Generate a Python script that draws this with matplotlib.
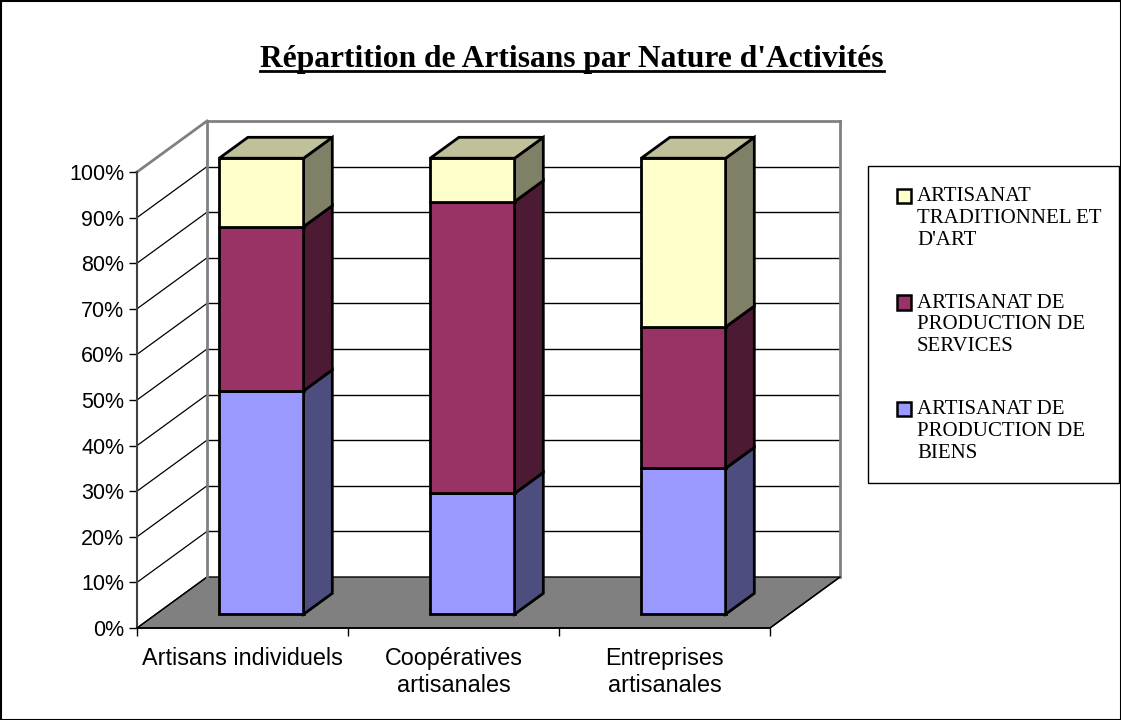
import matplotlib.pyplot as plt
from matplotlib.patches import Polygon, Rectangle

# Données (en %)
categories = ["Artisans individuels", "Coopératives\nartisanales", "Entreprises\nartisanales"]
series_names = ["ARTISANAT DE\nPRODUCTION DE\nBIENS",
                "ARTISANAT DE\nPRODUCTION DE\nSERVICES",
                "ARTISANAT\nTRADITIONNEL ET\nD'ART"]
biens = [49, 26.5, 32]
services = [36, 64, 31]
traditionnel = [15, 9.5, 37]
series = [biens, services, traditionnel]

front_colors = ["#9999FF", "#993366", "#FFFFCC"]
side_colors = ["#4D4D80", "#4D1A33", "#808066"]
top_colors = ["#BFBFF0", "#C07090", "#C0C09A"]

# Géométrie de la pseudo-3D (en unités de données)
DX, DY = 70 / 211, 51 / 4.56      # profondeur totale du plancher
F0, F1 = 0.27, 0.68               # profondeur avant / arrière des barres
BAR_W = 0.4
n = len(categories)

fig = plt.figure(figsize=(11.21, 7.2), dpi=100)
ax = fig.add_axes([0, 0, 1, 1])
ax.set_xlim(-137 / 211, (1121 - 137) / 211)
ax.set_ylim(-(720 - 628) / 4.56, 628 / 4.56)
ax.patch.set_visible(False)

# Plancher
ax.add_patch(Polygon([(0, 0), (n, 0), (n + DX, DY), (DX, DY)], closed=True,
                     facecolor="#808080", edgecolor="black", lw=1, zorder=1))

# Quadrillage : mur du fond et mur de gauche
for v in range(10, 101, 10):
    c = "#808080" if v == 100 else "black"
    ax.plot([DX, n + DX], [v + DY, v + DY], color=c, lw=2 if v == 100 else 1, zorder=1)
for v in range(0, 101, 10):
    c = "#808080" if v == 100 else "black"
    ax.plot([0, DX], [v, v + DY], color=c, lw=2 if v == 100 else 0.9, zorder=1)
ax.plot([DX, DX], [DY, 100 + DY], color="#808080", lw=2, zorder=1)
ax.plot([n + DX, n + DX], [DY, 100 + DY], color="#808080", lw=2, zorder=1)

# Barres empilées
for i in range(n):
    x0 = i + 0.5 - BAR_W / 2 + F0 * DX
    x1 = x0 + BAR_W
    ddx, ddy = (F1 - F0) * DX, (F1 - F0) * DY
    base = F0 * DY
    bottom = 0
    for s in range(len(series)):
        h = series[s][i]
        y0, y1 = base + bottom, base + bottom + h
        ax.bar(x0, h, width=BAR_W, bottom=y0, align="edge",
               color=front_colors[s], edgecolor="black", lw=2, zorder=3)
        ax.add_patch(Polygon([(x1, y0), (x1 + ddx, y0 + ddy), (x1 + ddx, y1 + ddy), (x1, y1)],
                             closed=True, facecolor=side_colors[s], edgecolor="black",
                             lw=2, zorder=3))
        if s == len(series) - 1:
            ax.add_patch(Polygon([(x0, y1), (x1, y1), (x1 + ddx, y1 + ddy), (x0 + ddx, y1 + ddy)],
                                 closed=True, facecolor=top_colors[s], edgecolor="black",
                                 lw=2, zorder=3))
        bottom += h

# Axes
for side in ["top", "right"]:
    ax.spines[side].set_visible(False)
ax.spines["left"].set_position(("data", 0))
ax.spines["left"].set_bounds(0, 100)
ax.spines["left"].set_color("#404040")
ax.spines["left"].set_linewidth(1.5)
ax.spines["bottom"].set_position(("data", 0))
ax.spines["bottom"].set_bounds(0, n + 0.0)
ax.spines["bottom"].set_linewidth(1.2)
ax.set_yticks(range(0, 101, 10))
ax.set_yticklabels([f"{v}%" for v in range(0, 101, 10)],
                   fontfamily="Liberation Sans", fontsize=15.5)
ax.tick_params(axis="y", length=6, width=1, pad=3)
ax.set_xticks(range(n + 1))
ax.set_xticklabels([""] * (n + 1))
ax.tick_params(axis="x", which="major", length=6, width=1)
ax.set_xticks([i + 0.5 for i in range(n)], minor=True)
ax.set_xticklabels(categories, minor=True, fontfamily="Liberation Sans", fontsize=16.8)
ax.tick_params(axis="x", which="minor", length=0, pad=14)
ax.plot([n, n + DX], [0, DY], color="black", lw=1, zorder=2)

# Titre souligné
title = fig.text(572 / 1121, 1 - 59 / 720, "Répartition de Artisans par Nature d'Activités",
                 ha="center", va="center", fontfamily="Liberation Serif",
                 fontsize=22.7, fontweight="bold")

# Légende
fig.patches.append(Rectangle((868 / 1121, 1 - 483 / 720), (1119 - 868) / 1121, (483 - 166) / 720,
                             transform=fig.transFigure, facecolor="white",
                             edgecolor="black", lw=1))
leg_items = list(zip(series_names, front_colors))[::-1]
for k, (name, col) in enumerate(leg_items):
    ytop = 196 + k * 106.5
    fig.patches.append(Rectangle((897 / 1121, 1 - (ytop + 7) / 720), 14 / 1121, 14 / 720,
                                 transform=fig.transFigure, facecolor=col,
                                 edgecolor="black", lw=1.8))
    fig.text(917 / 1121, 1 - (ytop - 9) / 720, name, ha="left", va="top",
             fontfamily="Liberation Serif", fontsize=15, linespacing=1.2)

# Cadre du graphique
fig.patches.append(Rectangle((0.5 / 1121, 0.5 / 720), 1120 / 1121, 719 / 720,
                             transform=fig.transFigure, fill=False,
                             edgecolor="black", lw=1.5))

fig.canvas.draw()
bb = title.get_window_extent().transformed(fig.transFigure.inverted())
fig.add_artist(plt.Line2D([bb.x0, bb.x1], [bb.y0 + 0.004, bb.y0 + 0.004],
                          transform=fig.transFigure, color="black", lw=2))

fig.savefig("out.png", dpi=100)
